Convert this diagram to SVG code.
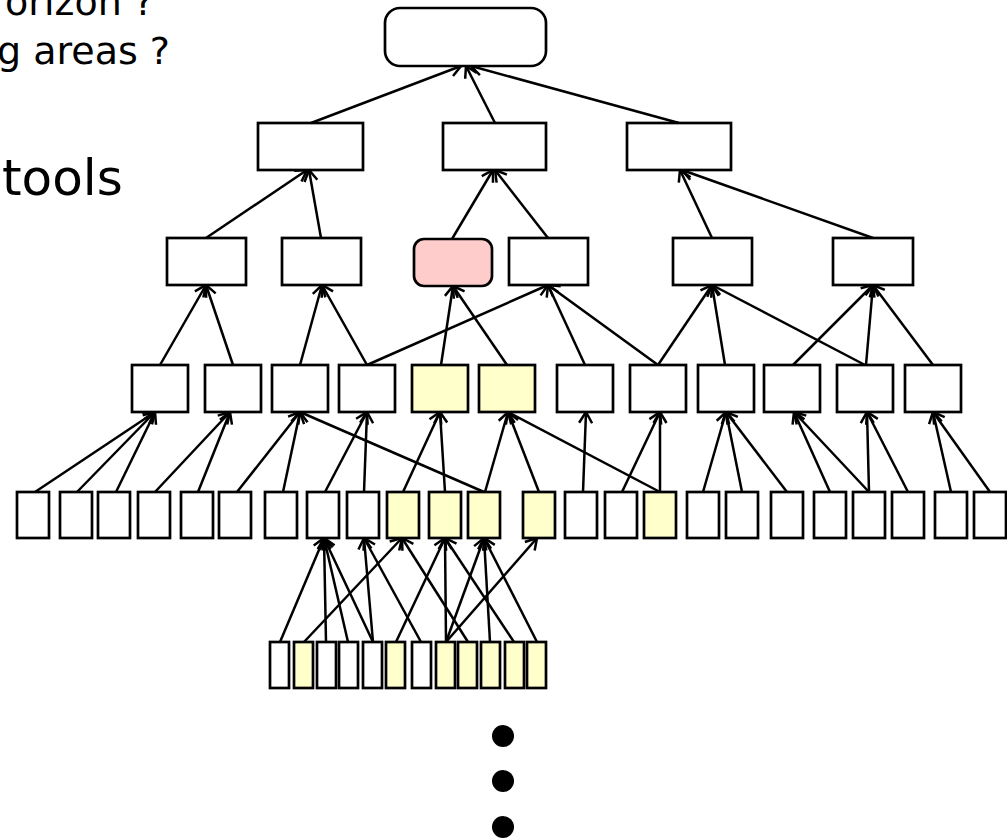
<svg xmlns="http://www.w3.org/2000/svg" width="1007" height="839" viewBox="0 0 1007 839">
<style>
.n{fill:#fff;stroke:#000;stroke-width:2.7}
.y{fill:#ffffcc;stroke:#000;stroke-width:2.7}
.p{fill:#ffcccc;stroke:#000;stroke-width:2.7}
.c line{stroke:#000;stroke-width:2.5;marker-end:url(#ah)}
.t{font-family:"DejaVu Sans","Open Sans",sans-serif;fill:#000}
</style>
<defs>
<marker id="ah" markerUnits="userSpaceOnUse" markerWidth="16" markerHeight="16" refX="12" refY="7" orient="auto" overflow="visible">
<path d="M1,0.5 L12,7 L1,13.5" fill="none" stroke="#000" stroke-width="2.5"/>
</marker>
</defs>
<rect width="1007" height="839" fill="#fff"/>
<g id="texts">
<text class="t" x="154" y="15" font-size="38" text-anchor="end">orizon ?</text>
<text class="t" x="170" y="64" font-size="38" text-anchor="end">g areas ?</text>
<text class="t" x="2" y="195" font-size="50">tools</text>
</g>
<g id="connectors" class="c">
<line x1="311" y1="123" x2="461" y2="66"/>
<line x1="495" y1="123" x2="466" y2="66"/>
<line x1="679" y1="123" x2="471" y2="66"/>
<line x1="206" y1="238" x2="307" y2="170"/>
<line x1="321" y1="238" x2="309" y2="170"/>
<line x1="452" y1="239" x2="493" y2="170"/>
<line x1="548" y1="238" x2="495" y2="170"/>
<line x1="712" y1="238" x2="680" y2="170"/>
<line x1="873" y1="238" x2="682" y2="170"/>
<line x1="160" y1="365" x2="206" y2="285"/>
<line x1="233" y1="365" x2="206" y2="285"/>
<line x1="300" y1="365" x2="322" y2="285"/>
<line x1="367" y1="365" x2="322" y2="285"/>
<line x1="367" y1="365" x2="548" y2="285"/>
<line x1="441" y1="365" x2="453" y2="286"/>
<line x1="507" y1="365" x2="453" y2="286"/>
<line x1="585" y1="365" x2="548" y2="285"/>
<line x1="658" y1="365" x2="548" y2="285"/>
<line x1="658" y1="365" x2="712" y2="285"/>
<line x1="725" y1="365" x2="712" y2="285"/>
<line x1="865" y1="365" x2="712" y2="285"/>
<line x1="793" y1="365" x2="873" y2="285"/>
<line x1="866" y1="365" x2="873" y2="285"/>
<line x1="933" y1="365" x2="873" y2="285"/>
<line x1="35" y1="492" x2="155" y2="412"/>
<line x1="77" y1="492" x2="155" y2="412"/>
<line x1="116" y1="492" x2="155" y2="412"/>
<line x1="155" y1="492" x2="230" y2="412"/>
<line x1="198" y1="492" x2="230" y2="412"/>
<line x1="237" y1="492" x2="300" y2="412"/>
<line x1="283" y1="492" x2="300" y2="412"/>
<line x1="484" y1="492" x2="300" y2="412"/>
<line x1="325" y1="492" x2="367" y2="412"/>
<line x1="364" y1="492" x2="367" y2="412"/>
<line x1="403" y1="492" x2="440" y2="412"/>
<line x1="445" y1="492" x2="440" y2="412"/>
<line x1="485" y1="492" x2="508" y2="412"/>
<line x1="539" y1="492" x2="508" y2="412"/>
<line x1="660" y1="492" x2="508" y2="412"/>
<line x1="583" y1="492" x2="586" y2="412"/>
<line x1="622" y1="492" x2="660" y2="412"/>
<line x1="660" y1="492" x2="660" y2="412"/>
<line x1="703" y1="492" x2="726" y2="412"/>
<line x1="742" y1="492" x2="726" y2="412"/>
<line x1="787" y1="492" x2="726" y2="412"/>
<line x1="830" y1="492" x2="794" y2="412"/>
<line x1="869" y1="492" x2="794" y2="412"/>
<line x1="869" y1="492" x2="867" y2="412"/>
<line x1="908" y1="492" x2="867" y2="412"/>
<line x1="951" y1="492" x2="933" y2="412"/>
<line x1="990" y1="492" x2="933" y2="412"/>
<line x1="280" y1="642" x2="324" y2="538"/>
<line x1="304" y1="642" x2="402" y2="538"/>
<line x1="326" y1="642" x2="324" y2="538"/>
<line x1="348" y1="642" x2="324" y2="538"/>
<line x1="373" y1="642" x2="324" y2="538"/>
<line x1="373" y1="642" x2="364" y2="538"/>
<line x1="396" y1="642" x2="445" y2="538"/>
<line x1="421" y1="642" x2="364" y2="538"/>
<line x1="446" y1="642" x2="445" y2="538"/>
<line x1="446" y1="642" x2="484" y2="538"/>
<line x1="446" y1="642" x2="537" y2="538"/>
<line x1="468" y1="642" x2="402" y2="538"/>
<line x1="490" y1="642" x2="484" y2="538"/>
<line x1="514" y1="642" x2="445" y2="538"/>
<line x1="537" y1="642" x2="484" y2="538"/>
</g>
<g id="level0"><rect id="root" class="n" x="385" y="8" width="161" height="58" rx="15"/></g>
<g id="level1">
<rect id="l1a" class="n" x="258" y="123" width="105" height="47"/>
<rect id="l1b" class="n" x="443" y="123" width="103" height="47"/>
<rect id="l1c" class="n" x="627" y="123" width="104" height="47"/>
</g>
<g id="level2">
<rect id="l2a" class="n" x="167" y="238" width="79" height="47"/>
<rect id="l2b" class="n" x="282" y="238" width="79" height="47"/>
<rect id="l2c" class="p" x="414" y="239" width="78" height="47" rx="10"/>
<rect id="l2d" class="n" x="509" y="238" width="79" height="47"/>
<rect id="l2e" class="n" x="673" y="238" width="79" height="47"/>
<rect id="l2f" class="n" x="833" y="238" width="80" height="47"/>
</g>
<g id="level3">
<rect id="l3a" class="n" x="132" y="365" width="56" height="47"/>
<rect id="l3b" class="n" x="205" y="365" width="56" height="47"/>
<rect id="l3c" class="n" x="272" y="365" width="56" height="47"/>
<rect id="l3d" class="n" x="339" y="365" width="56" height="47"/>
<rect id="l3e" class="y" x="412" y="365" width="56" height="47"/>
<rect id="l3f" class="y" x="479" y="365" width="56" height="47"/>
<rect id="l3g" class="n" x="557" y="365" width="56" height="47"/>
<rect id="l3h" class="n" x="630" y="365" width="56" height="47"/>
<rect id="l3i" class="n" x="698" y="365" width="56" height="47"/>
<rect id="l3j" class="n" x="764" y="365" width="56" height="47"/>
<rect id="l3k" class="n" x="837" y="365" width="56" height="47"/>
<rect id="l3l" class="n" x="905" y="365" width="56" height="47"/>
</g>
<g id="level4">
<rect id="l4-1" class="n" x="17" y="492" width="32" height="46"/>
<rect id="l4-2" class="n" x="60" y="492" width="32" height="46"/>
<rect id="l4-3" class="n" x="98" y="492" width="32" height="46"/>
<rect id="l4-4" class="n" x="138" y="492" width="32" height="46"/>
<rect id="l4-5" class="n" x="181" y="492" width="32" height="46"/>
<rect id="l4-6" class="n" x="219" y="492" width="32" height="46"/>
<rect id="l4-7" class="n" x="265" y="492" width="32" height="46"/>
<rect id="l4-8" class="n" x="307" y="492" width="32" height="46"/>
<rect id="l4-9" class="n" x="347" y="492" width="32" height="46"/>
<rect id="l4-10" class="y" x="387" y="492" width="32" height="46"/>
<rect id="l4-11" class="y" x="429" y="492" width="32" height="46"/>
<rect id="l4-12" class="y" x="468" y="492" width="32" height="46"/>
<rect id="l4-13" class="y" x="523" y="492" width="32" height="46"/>
<rect id="l4-14" class="n" x="565" y="492" width="32" height="46"/>
<rect id="l4-15" class="n" x="605" y="492" width="32" height="46"/>
<rect id="l4-16" class="y" x="644" y="492" width="32" height="46"/>
<rect id="l4-17" class="n" x="687" y="492" width="32" height="46"/>
<rect id="l4-18" class="n" x="726" y="492" width="32" height="46"/>
<rect id="l4-19" class="n" x="771" y="492" width="32" height="46"/>
<rect id="l4-20" class="n" x="814" y="492" width="32" height="46"/>
<rect id="l4-21" class="n" x="853" y="492" width="32" height="46"/>
<rect id="l4-22" class="n" x="892" y="492" width="32" height="46"/>
<rect id="l4-23" class="n" x="935" y="492" width="32" height="46"/>
<rect id="l4-24" class="n" x="974" y="492" width="32" height="46"/>
</g>
<g id="level5">
<rect id="l5-1" class="n" x="270" y="642" width="19" height="46"/>
<rect id="l5-2" class="y" x="294" y="642" width="19" height="46"/>
<rect id="l5-3" class="n" x="317" y="642" width="19" height="46"/>
<rect id="l5-4" class="n" x="339" y="642" width="19" height="46"/>
<rect id="l5-5" class="n" x="363" y="642" width="19" height="46"/>
<rect id="l5-6" class="y" x="386" y="642" width="19" height="46"/>
<rect id="l5-7" class="n" x="412" y="642" width="19" height="46"/>
<rect id="l5-8" class="y" x="436" y="642" width="19" height="46"/>
<rect id="l5-9" class="y" x="458" y="642" width="19" height="46"/>
<rect id="l5-10" class="y" x="481" y="642" width="19" height="46"/>
<rect id="l5-11" class="y" x="505" y="642" width="19" height="46"/>
<rect id="l5-12" class="y" x="527" y="642" width="19" height="46"/>
</g>
<g id="ellipsis">
<circle cx="503" cy="736" r="11"/>
<circle cx="503" cy="781" r="11"/>
<circle cx="503" cy="827" r="11"/>
</g>
</svg>
